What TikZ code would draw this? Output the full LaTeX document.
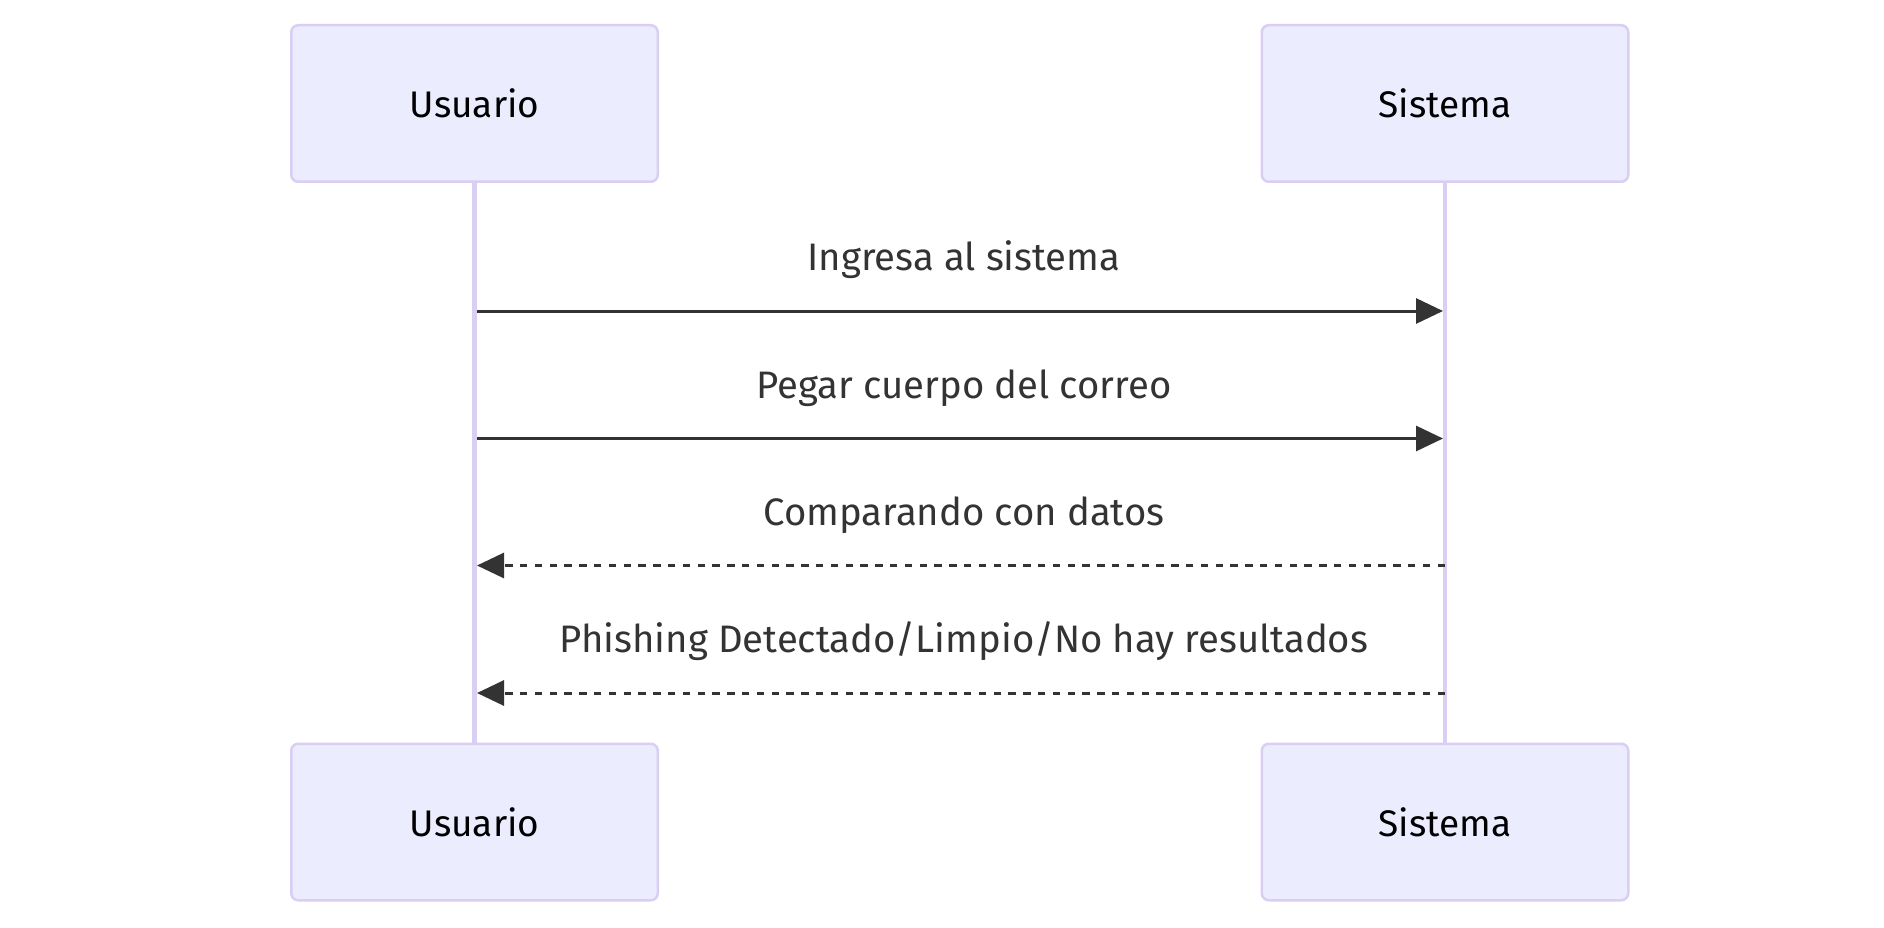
\documentclass[tikz,border=0pt]{standalone}
\usepackage{fontspec}
\setmainfont{Fira Sans}
\usetikzlibrary{arrows.meta}
\definecolor{actfill}{HTML}{ECECFF}
\definecolor{actline}{RGB}{218,206,242}
\definecolor{msgc}{HTML}{333333}
\begin{document}
\begin{tikzpicture}[x=1pt,y=-1pt,
  actor/.style={draw=actline, fill=actfill, line width=2.5pt, rounded corners=7pt,
    minimum width=366.5pt, minimum height=156.5pt, inner sep=0pt,
    font=\fontsize{37}{40}\selectfont, text=black},
  life/.style={draw=actline, line width=4.5pt},
  msgline/.style={draw=msgc, line width=3pt, -{Triangle[length=27pt,width=25pt]}},
  reply/.style={msgline, dash pattern=on 7.4pt off 7.4pt},
  lbl/.style={anchor=base, text=msgc, font=\fontsize{38.3}{41}\selectfont, inner sep=0pt}]
\useasboundingbox[fill=white] (0,0) rectangle (1884,928);
\node[actor] (ut) at (474.5,103.5) {Usuario};
\node[actor] (st) at (1445,103.5) {Sistema};
\node[actor] (ub) at (474.5,822) {Usuario};
\node[actor] (sb) at (1445,822) {Sistema};
\draw[life] (ut.south) -- (ub.north);
\draw[life] (st.south) -- (sb.north);
% message end points on lifelines
\coordinate (u1) at (477,311);   \coordinate (s1) at (1443,311);
\coordinate (u2) at (477,438.5); \coordinate (s2) at (1443,438.5);
\coordinate (u3) at (477,565.5); \coordinate (s3) at (1445,565.5);
\coordinate (u4) at (477,693);   \coordinate (s4) at (1445,693);
\draw[msgline] (u1) -- (s1);
\draw[msgline] (u2) -- (s2);
\draw[reply] (s3) -- (u3);
\draw[reply] (s4) -- (u4);
\node[lbl] (l1) at (964,270) {Ingresa al sistema};
\node[lbl] (l2) at (964,398) {Pegar cuerpo del correo};
\node[lbl] (l3) at (964,525) {Comparando con datos};
\node[lbl] (l4) at (964,652) {Phishing Detectado/Limpio/No hay resultados};
\end{tikzpicture}
\end{document}
